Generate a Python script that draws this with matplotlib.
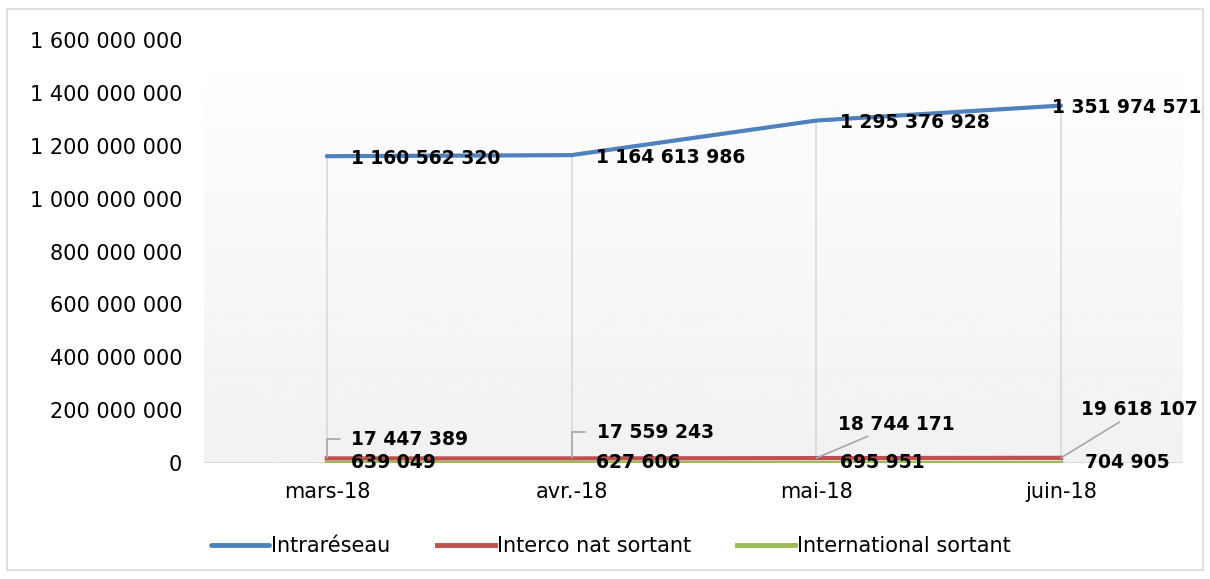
import matplotlib.pyplot as plt
import numpy as np
from matplotlib.patches import Rectangle

months = ['mars-18', 'avr.-18', 'mai-18', 'juin-18']
intrareseau = [1160562320, 1164613986, 1295376928, 1351974571]
interco = [17447389, 17559243, 18744171, 19618107]
international = [639049, 627606, 695951, 704905]
series_names = ['Intraréseau', 'Interco nat sortant', 'International sortant']

c_blue = '#4f81bd'
c_red = '#c0504d'
c_green = '#9bbb59'
grid_c = '#d9d9d9'


def fmt(v):
    return f'{v:,.0f}'.replace(',', ' ')


fig = plt.figure(figsize=(12.1, 5.79), dpi=100)
ax = fig.add_axes([0.169, 0.2003, 0.809, 0.7306])
x = np.arange(len(months))

# gradient plot area background
grad = np.linspace(1.0, 0.945, 256).reshape(-1, 1)
ax.imshow(grad, cmap='gray', vmin=0, vmax=1, aspect='auto',
          extent=[-0.5, 3.5, 0, 1.6e9], zorder=0, origin='upper')

# drop lines
ax.vlines(x, 0, intrareseau, color=grid_c, lw=1.2, zorder=1)
ax.axhline(0, color=grid_c, lw=1.2, zorder=1)

l1, = ax.plot(x, intrareseau, color=c_blue, lw=3, zorder=3, solid_capstyle='round')
l2, = ax.plot(x, interco, color=c_red, lw=3, zorder=3)
l3, = ax.plot(x, international, color=c_green, lw=3, zorder=2)

ax.set_xlim(-0.5, 3.5)
ax.set_ylim(0, 1.6e9)
ax.set_yticks(np.arange(0, 1.6e9 + 1, 2e8))
ax.set_yticklabels([fmt(v) for v in np.arange(0, 1.6e9 + 1, 2e8)], fontsize=15)
ax.set_xticks(x)
ax.set_xticklabels(months, fontsize=15)
ax.tick_params(axis='y', length=0, pad=16)
ax.tick_params(axis='x', length=0, pad=14)
for s in ax.spines.values():
    s.set_visible(False)

lab = dict(fontsize=13.5, fontweight='bold', textcoords='offset pixels', va='center', ha='left')

# Intrareseau labels
intra_dx = [24, 24, 24, -9]
for i, v in enumerate(intrareseau):
    ax.annotate(fmt(v), (x[i], v), xytext=(intra_dx[i], -2), zorder=5, **lab)

# Interco labels with leader lines
interco_off = [(24, 19), (25, 26), (22, 34), (20, 48)]
for i, v in enumerate(interco):
    if i < 2:
        ap = dict(arrowstyle='-', color='#a6a6a6', lw=1.2, relpos=(0, 0.5),
                  connectionstyle='angle,angleA=0,angleB=90,rad=0', shrinkA=6, shrinkB=0)
    else:
        ap = dict(arrowstyle='-', color='#a6a6a6', lw=1.2, shrinkA=0, shrinkB=0)
    ax.annotate(fmt(v), (x[i], v), xytext=interco_off[i], arrowprops=ap, zorder=5, **lab)

# International labels
for i, v in enumerate(international):
    ax.annotate(fmt(v), (x[i], v), xytext=(24, 0), zorder=5, **lab)

leg = fig.legend([l1, l2, l3], series_names,
                 loc='center', bbox_to_anchor=(0.505, 0.057), ncol=3, frameon=False,
                 fontsize=15, handlelength=2.8, handletextpad=0.1, columnspacing=2.2)
for h in leg.get_lines():
    h.set_linewidth(3.5)

fig.patches.append(Rectangle((0.006, 0.015), 0.988, 0.97, transform=fig.transFigure,
                             fill=False, edgecolor=grid_c, lw=1.2))

fig.savefig('out.png', dpi=100)
